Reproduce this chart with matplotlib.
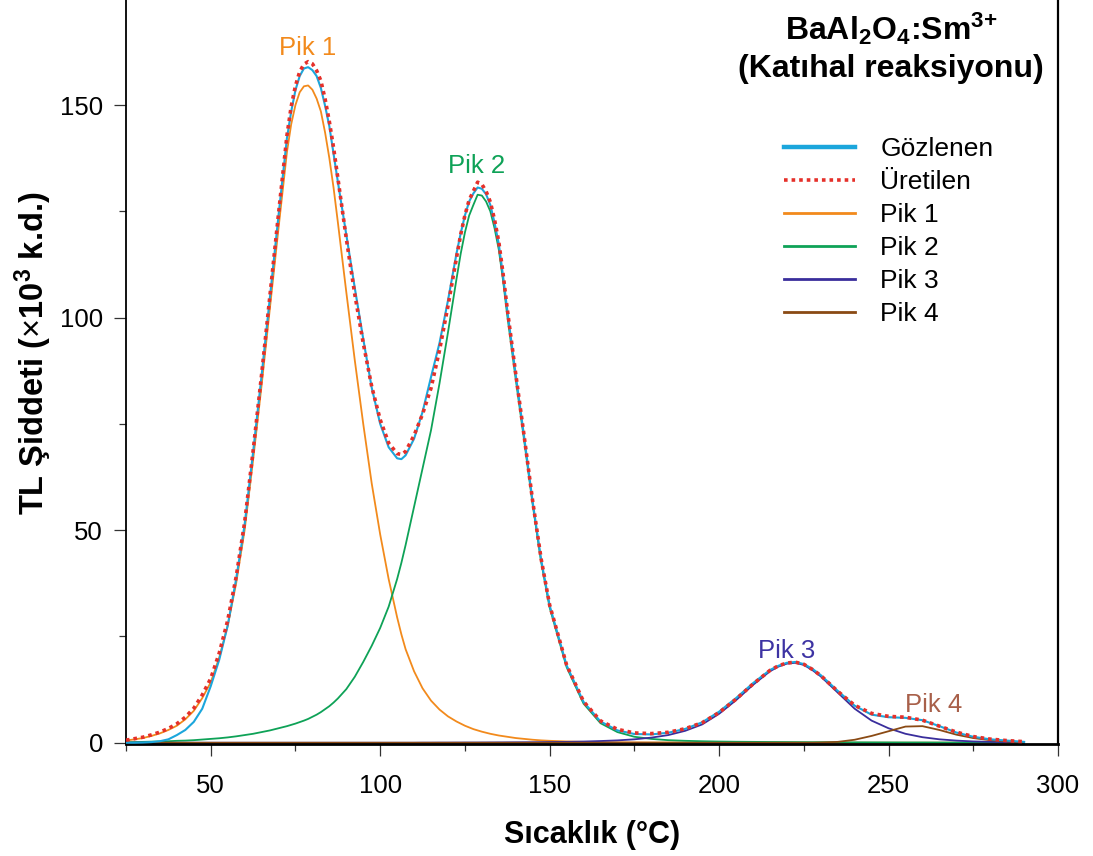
import matplotlib
matplotlib.use("Agg")
import matplotlib.pyplot as plt
from matplotlib.lines import Line2D
from matplotlib.ticker import MultipleLocator

plt.rcParams['font.family'] = ['Liberation Sans', 'DejaVu Sans']
plt.rcParams['mathtext.fontset'] = 'custom'
plt.rcParams['mathtext.rm'] = 'Liberation Sans'
plt.rcParams['mathtext.it'] = 'Liberation Sans:italic'
plt.rcParams['mathtext.bf'] = 'Liberation Sans:bold'

# Temperature grid (°C), denser around the peak tops
temperature = [25, 27.5, 30, 32.5, 35, 37.5, 40, 42.5, 45, 47.5, 50, 52.5, 55, 57.5, 60, 62.5, 65, 67.5, 70, 72.5,
               73.75, 75, 76.25, 77.5, 78.75, 80, 81.25, 82.5, 83.75, 85, 86.25, 87.5,
               90, 92.5, 95, 97.5, 100, 102.5, 105, 106.25, 107.5, 110, 112.5, 115, 117.5, 120, 122.5,
               123.75, 125, 126.25, 127.5, 128.75, 130, 131.25, 132.5, 133.75, 135, 136.25, 137.5,
               140, 142.5, 145, 147.5, 150,
               155, 160, 165, 170, 175, 180, 185, 190, 195, 200, 205, 210, 215,
               217.5, 220, 222.5, 225, 227.5,
               230, 235, 240, 245, 250, 255, 260, 265, 270, 275, 280, 285, 290]

# Measured glow curve (x10^3 a.u.)
gozlenen = [0.0, 0.0, 0.05, 0.15, 0.35, 0.8, 1.8, 3.0, 4.9, 8.0, 13.3, 19.5, 27.5, 38.5, 51.3, 68.3, 86.3, 105.0, 124.0, 142.3,
            148.5, 153.5, 156.8, 158.6, 158.9, 158.2, 156.8, 154.0, 149.8, 145.0, 138.5, 132.0,
            119.5, 107.0, 95.0, 83.5, 75.0, 69.5, 66.9, 66.7, 67.6, 71.5, 77.8, 86.0, 94.0, 104.0, 115.0,
            119.8, 124.0, 127.3, 129.2, 130.6, 130.3, 129.0, 126.5, 122.3, 117.3, 109.8, 101.7,
            86.5, 71.8, 56.6, 43.0, 32.3,
            18.2, 9.6, 5.0, 2.9, 2.05, 1.95, 2.35, 3.25, 4.8, 7.3, 10.5, 14.0, 17.1,
            18.1, 18.8, 19.0, 18.5, 17.4,
            15.9, 12.2, 8.7, 6.6, 6.0, 5.85, 5.3, 3.9, 2.4, 1.4, 0.8, 0.5, 0.2]

# Fitted (generated) curve
uretilen = [0.6, 0.95, 1.3, 1.85, 2.5, 3.35, 4.45, 6.0, 8.1, 11.25, 15.1, 21.05, 28.75, 39.0, 51.8, 68.6, 86.5, 105.4, 124.4, 142.9,
            149.7, 154.5, 157.85, 159.6, 160.2, 159.7, 158.1, 155.7, 151.4, 146.1, 139.95, 132.9,
            118.6, 105.5, 94.0, 83.8, 76.0, 70.5, 68.0, 67.8, 68.5, 72.3, 77.3, 83.4, 92.3, 102.7, 114.0,
            119.5, 124.05, 127.65, 129.75, 131.85, 131.35, 129.7, 127.2, 123.0, 117.8, 110.4, 102.0,
            86.7, 72.0, 56.8, 43.2, 32.4,
            18.3, 9.7, 5.15, 3.15, 2.3, 2.15, 2.45, 3.3, 4.7, 7.1, 10.25, 13.8, 17.0,
            18.1, 18.75, 18.95, 18.45, 17.25,
            15.8, 12.1, 8.8, 6.9, 6.2, 6.0, 5.3, 3.9, 2.5, 1.45, 0.85, 0.5, 0.25]

pik1 = [0.5, 0.8, 1.1, 1.6, 2.2, 3.0, 4.0, 5.5, 7.5, 10.5, 14.2, 20.0, 27.5, 37.5, 50.0, 66.5, 84.0, 102.5, 121.0, 139.0,
        145.5, 150.0, 153.0, 154.4, 154.6, 153.6, 151.5, 148.5, 143.5, 137.5, 130.5, 122.5,
        106.0, 90.0, 75.0, 61.0, 49.0, 38.5, 29.5, 25.5, 22.0, 16.8, 12.8, 9.9, 7.8, 6.2, 5.0,
        4.5, 4.0, 3.6, 3.2, 2.9, 2.6, 2.35, 2.1, 1.9, 1.7, 1.55, 1.4,
        1.1, 0.9, 0.7, 0.55, 0.45,
        0.3, 0.2, 0.15, 0.1, 0.08, 0.06, 0.05, 0.04, 0.04, 0.03, 0.03, 0.03, 0.02,
        0.02, 0.02, 0.02, 0.02, 0.02,
        0.02, 0.02, 0.01, 0.01, 0.01, 0.01, 0.01, 0.01, 0.01, 0.01, 0.01, 0.01, 0.01]

pik2 = [0.1, 0.15, 0.2, 0.25, 0.3, 0.35, 0.45, 0.5, 0.6, 0.75, 0.9, 1.05, 1.25, 1.5, 1.8, 2.1, 2.5, 2.9, 3.4, 3.9,
        4.2, 4.5, 4.85, 5.2, 5.6, 6.1, 6.6, 7.2, 7.9, 8.6, 9.45, 10.4,
        12.6, 15.5, 19.0, 22.8, 27.0, 32.0, 38.5, 42.3, 46.5, 55.5, 64.5, 73.5, 84.5, 96.5, 109.0,
        115.0, 120.0, 124.0, 126.5, 128.9, 128.7, 127.3, 125.0, 121.0, 116.0, 108.8, 100.5,
        85.5, 71.0, 56.0, 42.5, 31.8,
        17.8, 9.2, 4.6, 2.5, 1.4, 0.9, 0.6, 0.45, 0.35, 0.28, 0.23, 0.2, 0.17,
        0.16, 0.15, 0.14, 0.13, 0.12,
        0.12, 0.1, 0.09, 0.08, 0.07, 0.06, 0.06, 0.05, 0.05, 0.04, 0.04, 0.03, 0.03]

pik3 = [0.0] * 42 + [0.02, 0.02, 0.03, 0.03, 0.04,
                     0.04, 0.05, 0.05, 0.05, 0.05, 0.06, 0.06, 0.07, 0.07, 0.08, 0.08, 0.09,
                     0.1, 0.11, 0.12, 0.14, 0.16,
                     0.2, 0.28, 0.4, 0.55, 0.8, 1.2, 1.8, 2.8, 4.3, 6.8, 10.0, 13.6, 16.8,
                     17.9, 18.6, 18.8, 18.3, 17.1,
                     15.6, 11.8, 8.0, 5.2, 3.4, 2.1, 1.3, 0.8, 0.5, 0.3, 0.2, 0.15, 0.1]

pik4 = [0.0] * 82 + [0.05, 0.2, 0.7, 1.6, 2.7, 3.8, 3.9, 3.0, 1.9, 1.1, 0.6, 0.3, 0.1]

series_labels = ['Gözlenen', 'Üretilen', 'Pik 1', 'Pik 2', 'Pik 3', 'Pik 4']

c_obs = '#1ba6dc'
c_fit = '#e5302a'
c_p1 = '#f28a1c'
c_p2 = '#0ea257'
c_p3 = '#3a2e9c'
c_p4 = '#8a4a14'

fig = plt.figure(figsize=(10.93, 8.56), dpi=100)
ax = fig.add_axes([126 / 1093, 1 - 744 / 856, (1058 - 126) / 1093, 744 / 856])

ax.plot(temperature, pik1, color=c_p1, lw=1.3, zorder=2)
ax.plot(temperature, pik2, color=c_p2, lw=1.3, zorder=2)
ax.plot(temperature, pik3, color=c_p3, lw=1.3, zorder=2)
ax.plot(temperature, pik4, color=c_p4, lw=1.3, zorder=2.1)
ax.plot(temperature, gozlenen, color=c_obs, lw=1.5, zorder=3)
ax.plot(temperature, uretilen, color=c_fit, lw=2.6, linestyle=(0, (1, 1.1)), zorder=4)

ax.set_xlim(25, 300)
ax.set_ylim(-0.3, 174.7)
ax.xaxis.set_major_locator(MultipleLocator(50))
ax.xaxis.set_minor_locator(MultipleLocator(25))
ax.yaxis.set_major_locator(MultipleLocator(50))
ax.yaxis.set_minor_locator(MultipleLocator(25))

ax.spines['top'].set_visible(False)
ax.spines['left'].set_linewidth(1.3)
ax.spines['right'].set_linewidth(1.6)
ax.spines['bottom'].set_linewidth(2.0)
ax.tick_params(axis='both', which='major', direction='out', length=8.5, width=0.9,
               labelsize=18.5, color='#333333')
ax.tick_params(axis='both', which='minor', direction='out', length=5, width=0.9, color='#333333')
ax.tick_params(axis='x', which='major', pad=13)
ax.tick_params(axis='y', which='major', pad=8)

fig.text(592 / 1093, 1 - 843 / 856, 'Sıcaklık (°C)', fontsize=22, fontweight='bold',
         ha='center', va='baseline')
fig.text(33 / 1093, 1 - 353 / 856, r'TL Şiddeti ($\times$10$^\mathbf{3}$ k.d.)', fontsize=23.5,
         fontweight='bold', rotation=90, ha='center', va='center')

fig.text(891 / 1093, 1 - 40 / 856, r'BaAl$_\mathbf{2}$O$_\mathbf{4}$:Sm$^{\mathbf{3}{\mathbf{+}}}$',
         fontsize=23, fontweight='bold', ha='center', va='baseline')
fig.text(891 / 1093, 1 - 77 / 856, '(Katıhal reaksiyonu)', fontsize=23, fontweight='bold',
         ha='center', va='baseline')

peak_names = ['Pik 1', 'Pik 2', 'Pik 3', 'Pik 4']
peak_label_pos = [(78.6, 161.7), (128.4, 134.0), (219.8, 19.85), (263.4, 7.3)]
peak_label_colors = [c_p1, c_p2, '#3d33a3', '#a8604a']
for name, (tx, ty), col in zip(peak_names, peak_label_pos, peak_label_colors):
    ax.text(tx, ty, name, color=col, fontsize=18.5, ha='center', va='baseline')

handles = [Line2D([], [], color=c_obs, lw=3.2),
           Line2D([], [], color=c_fit, lw=2.6, linestyle=(0, (1, 1.1))),
           Line2D([], [], color=c_p1, lw=2.0),
           Line2D([], [], color=c_p2, lw=2.0),
           Line2D([], [], color=c_p3, lw=2.0),
           Line2D([], [], color=c_p4, lw=2.0)]
ax.legend(handles, series_labels, loc='upper left', bbox_to_anchor=(784 / 1093, 1 - 137 / 856),
          bbox_transform=fig.transFigure, frameon=False, borderpad=0, borderaxespad=0,
          handlelength=2.7, handletextpad=0.95, labelspacing=0.34, fontsize=19)

fig.savefig('out.png', dpi=100)
